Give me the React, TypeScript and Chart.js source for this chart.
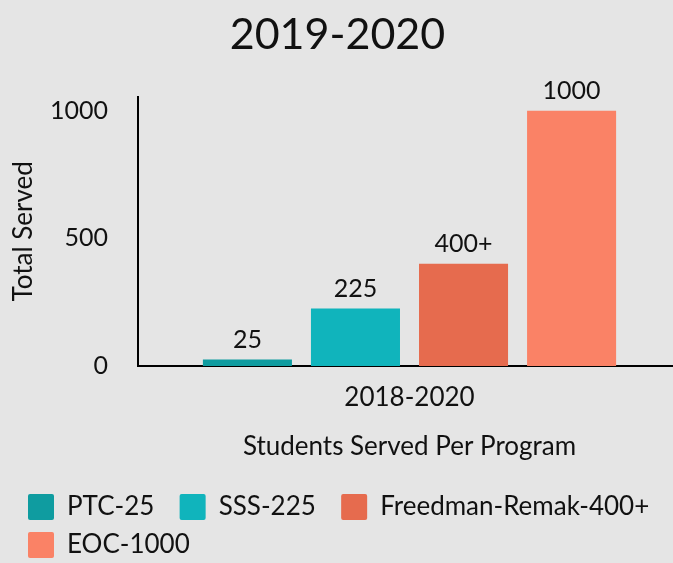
import React, { useEffect, useRef } from 'react';
import { Chart, registerables } from 'chart.js';

Chart.register(...registerables);

const chartTitle = '2019-2020';
const categories = ['2018-2020'];
const seriesNames = ['PTC-25', 'SSS-225', 'Freedman-Remak-400+', 'EOC-1000'];
const seriesValues = [25, 225, 400, 1000];
const valueLabels = ['25', '225', '400+', '1000'];
const seriesColors = ['#0f9ca0', '#10b4bc', '#e66b4e', '#fa8266'];
const yTickValues = [0, 500, 1000];
const yAxisTitle = 'Total Served';
const xAxisTitle = 'Students Served Per Program';

const FONT = 'Lato';
const TEXT = '#111111';

const valueLabelPlugin = {
  id: 'valueLabels',
  afterDatasetsDraw(chart: any) {
    const ctx = chart.ctx;
    ctx.save();
    ctx.font = `25px ${FONT}`;
    ctx.fillStyle = TEXT;
    ctx.textAlign = 'center';
    ctx.textBaseline = 'alphabetic';
    chart.data.datasets.forEach((_ds: any, i: number) => {
      const meta = chart.getDatasetMeta(i);
      meta.data.forEach((el: any) => {
        ctx.fillText(valueLabels[i], el.x, el.y - 12);
      });
    });
    ctx.restore();
  },
};

export default function App() {
  const canvasRef = useRef<HTMLCanvasElement | null>(null);

  useEffect(() => {
    const canvas = canvasRef.current;
    if (!canvas) return;
    const defaultGen = (Chart.defaults.plugins.legend.labels as any).generateLabels;
    const chart = new Chart(canvas, {
      type: 'bar',
      data: {
        labels: categories,
        datasets: seriesNames.map((name, i) => ({
          label: name,
          data: [seriesValues[i]],
          backgroundColor: seriesColors[i],
          borderWidth: 0,
          barPercentage: 0.824,
          categoryPercentage: 0.796,
        })),
      },
      options: {
        responsive: false,
        animation: false,
        devicePixelRatio: 1,
        layout: { padding: { left: 16, right: 0, top: 0, bottom: 0 } },
        plugins: {
          title: {
            display: true,
            text: chartTitle + '  ',
            color: TEXT,
            font: { family: FONT, size: 43, weight: 'normal', lineHeight: 1.2 },
            padding: { top: 9, bottom: 36 },
          },
          legend: {
            position: 'bottom',
            align: 'start',
            labels: {
              boxWidth: 26,
              boxHeight: 26,
              padding: 12,
              color: TEXT,
              font: { family: FONT, size: 26 },
              useBorderRadius: true,
              borderRadius: 2,
              generateLabels: (c: any) =>
                defaultGen(c).map((l: any, i: number) => ({
                  ...l,
                  text: i < 2 ? l.text + '  ' : l.text,
                  lineWidth: 0,
                })),
            },
          },
          tooltip: { enabled: false },
        },
        scales: {
          x: {
            grid: { display: false, drawTicks: false },
            border: { display: true, color: '#000', width: 2 },
            ticks: { color: TEXT, font: { family: FONT, size: 26 }, padding: 16 },
            title: {
              display: true,
              text: xAxisTitle,
              color: TEXT,
              font: { family: FONT, size: 26, lineHeight: 1.2 },
              padding: { top: 0, bottom: 20 },
            },
            afterFit: (s: any) => {
              s.height = 116;
            },
          },
          y: {
            min: 0,
            max: 1055,
            afterBuildTicks: (s: any) => {
              s.ticks = yTickValues.map((v) => ({ value: v }));
            },
            grid: { display: false, drawTicks: false },
            border: { display: true, color: '#000', width: 2 },
            ticks: {
              color: TEXT,
              font: { family: FONT, size: 25 },
              padding: 30,
              callback: (v: any) => String(v),
            },
            title: {
              display: true,
              text: yAxisTitle,
              color: TEXT,
              font: { family: FONT, size: 26, lineHeight: 1 },
              padding: { top: -5, bottom: 0 },
            },
            afterFit: (s: any) => {
              s.width = 122;
            },
          },
        },
      } as any,
      plugins: [valueLabelPlugin],
    });
    return () => chart.destroy();
  }, []);

  return (
    <div
      style={{
        position: 'fixed',
        left: 0,
        top: 0,
        width: 673,
        height: 563,
        overflow: 'hidden',
        background: '#e5e5e5',
      }}
    >
      <canvas ref={canvasRef} width={681} height={568} style={{ display: 'block' }} />
    </div>
  );
}
